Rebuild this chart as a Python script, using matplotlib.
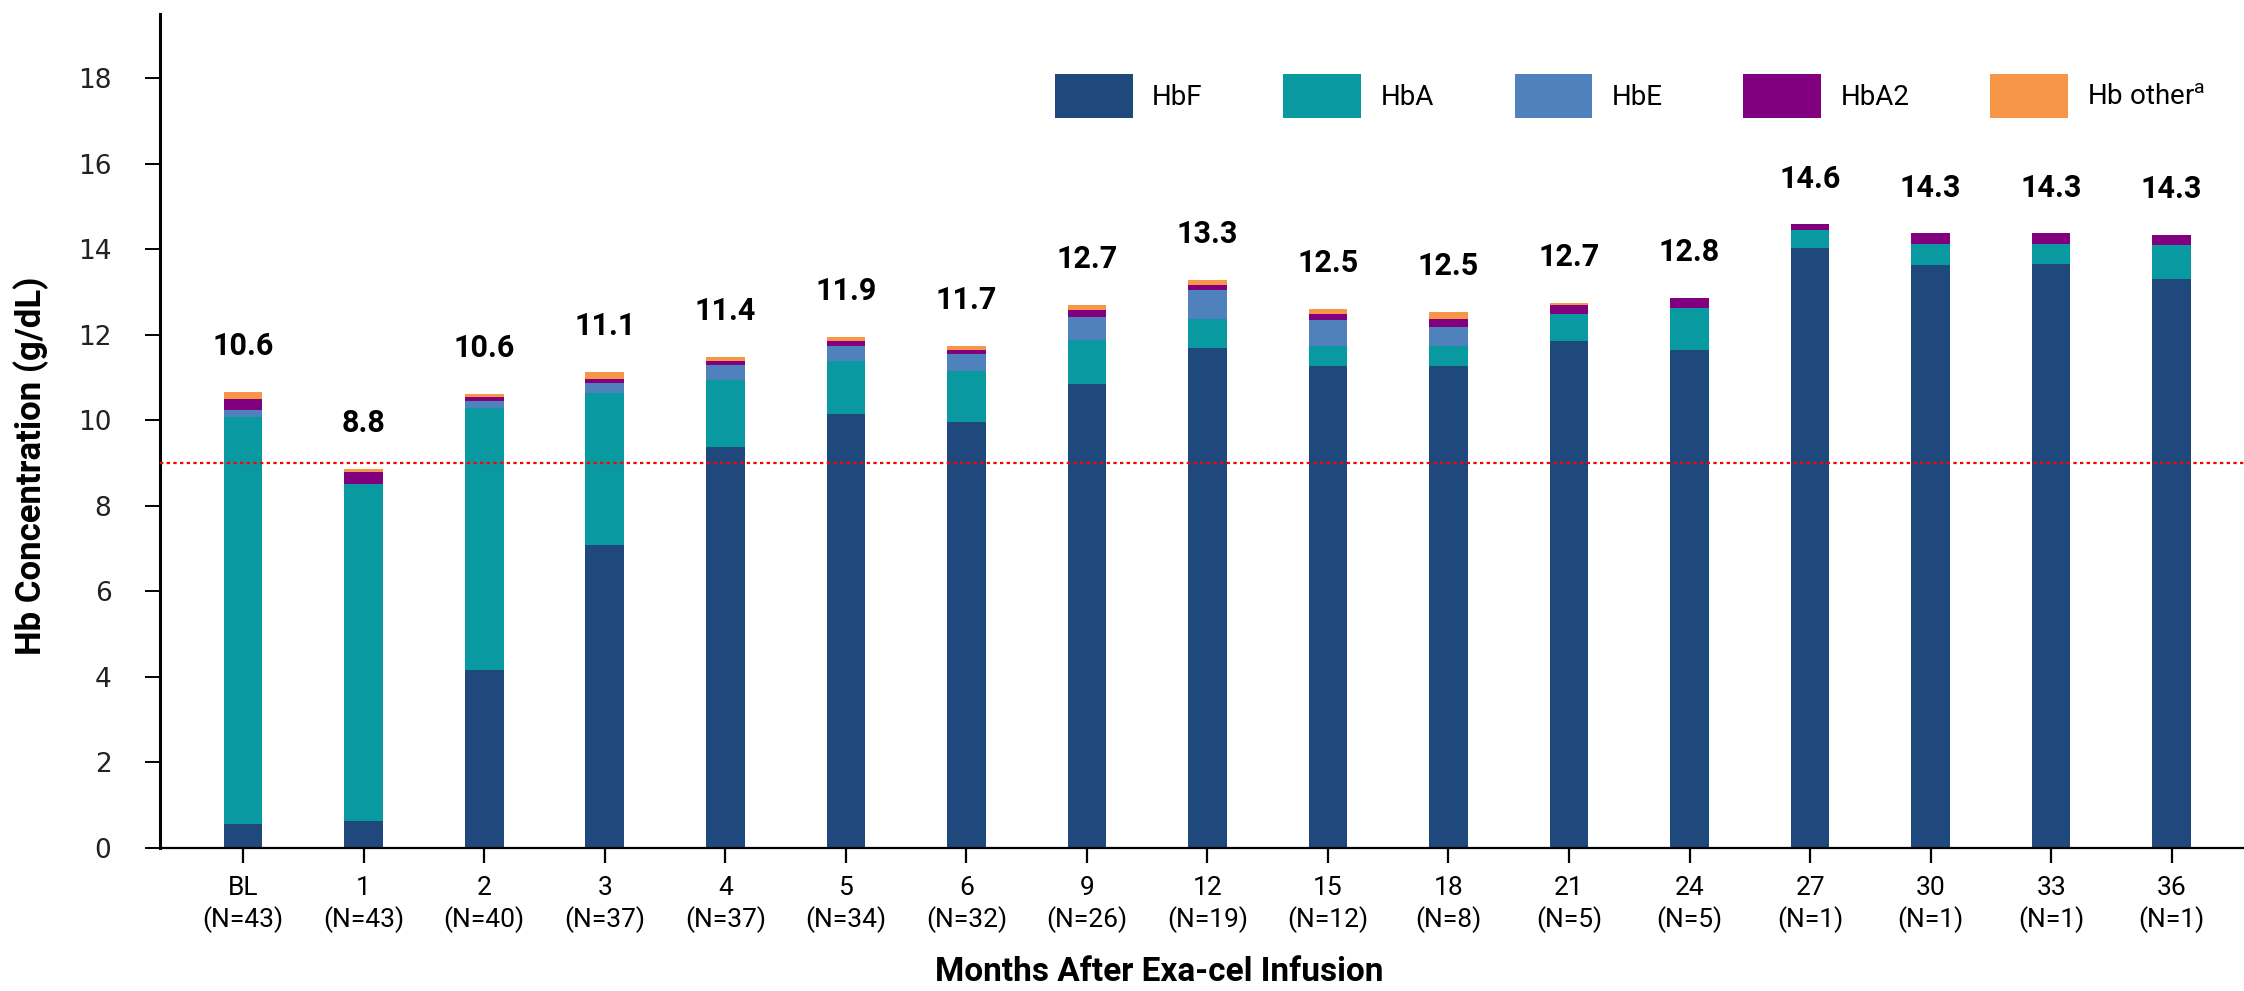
import matplotlib
matplotlib.use("Agg")
import matplotlib.pyplot as plt
from matplotlib import font_manager
import numpy as np

# pick a narrow, Calibri-like family if one is installed
installed = {f.name for f in font_manager.fontManager.ttflist}
NARROW = "Liberation Sans Narrow" if "Liberation Sans Narrow" in installed else "Roboto"
plt.rcParams["font.family"] = [NARROW, "DejaVu Sans"]
plt.rcParams["mathtext.fontset"] = "custom"
plt.rcParams["mathtext.rm"] = NARROW

########################################
# data (g/dL)
months = ["BL", "1", "2", "3", "4", "5", "6", "9", "12", "15", "18",
          "21", "24", "27", "30", "33", "36"]
n_pts = [43, 43, 40, 37, 37, 34, 32, 26, 19, 12, 8, 5, 5, 1, 1, 1, 1]
hbf = [0.55, 0.62, 4.16, 7.08, 9.37, 10.15, 9.96, 10.85, 11.69, 11.27,
       11.27, 11.86, 11.65, 14.04, 13.64, 13.66, 13.31]
hba = [9.53, 7.89, 6.13, 3.56, 1.57, 1.24, 1.20, 1.03, 0.68, 0.47,
       0.47, 0.63, 0.98, 0.42, 0.49, 0.47, 0.80]
hbe = [0.16, 0.00, 0.16, 0.23, 0.36, 0.35, 0.39, 0.54, 0.68, 0.61,
       0.45, 0.00, 0.00, 0.00, 0.00, 0.00, 0.00]
hba2 = [0.26, 0.28, 0.10, 0.10, 0.09, 0.12, 0.10, 0.16, 0.12, 0.14,
        0.18, 0.21, 0.24, 0.12, 0.24, 0.24, 0.23]
hb_other = [0.16, 0.07, 0.07, 0.16, 0.09, 0.09, 0.09, 0.12, 0.12, 0.12,
            0.17, 0.05, 0.00, 0.00, 0.00, 0.00, 0.00]
total_labels = ["10.6", "8.8", "10.6", "11.1", "11.4", "11.9", "11.7", "12.7",
                "13.3", "12.5", "12.5", "12.7", "12.8", "14.6", "14.3", "14.3",
                "14.3"]
threshold = 9.0

series = [
    ("HbF", hbf, "#1F497D"),
    ("HbA", hba, "#0899A1"),
    ("HbE", hbe, "#4F81BD"),
    ("HbA2", hba2, "#800080"),
    ("Hb other$^{\\mathrm{a}}$", hb_other, "#F79646"),
]

########################################
fig = plt.figure(figsize=(22.44, 9.91), dpi=100)
ax = fig.add_axes([0.0713, 0.1443, 0.9287, 0.8416])

x = np.arange(len(months))
bottom = np.zeros(len(months))
handles = []
for name, vals, color in series:
    vals = np.array(vals)
    h = ax.bar(x, vals, width=0.32, bottom=bottom, color=color, label=name,
               linewidth=0)
    handles.append(h)
    bottom = bottom + vals

for xi, top, lab in zip(x, bottom, total_labels):
    ax.annotate(lab, (xi, top), xytext=(0, 33), textcoords="offset points",
                ha="center", va="center", fontsize=22, fontweight="bold",
                color="black")

ax.axhline(threshold, color="red", linestyle=(0, (1.5, 1.5)), linewidth=1.6,
           zorder=3)

ax.set_xlim(-0.69, 16.6)
ax.set_ylim(0, 19.5)
ax.set_yticks(np.arange(0, 19, 2))
ax.set_yticklabels([str(v) for v in range(0, 19, 2)], family="DejaVu Sans",
                   fontsize=19, color="#222222")
ax.set_xticks(x)
ax.set_xticklabels(["%s\n(N=%d)" % (m, n) for m, n in zip(months, n_pts)],
                   fontsize=19, linespacing=1.3)

for side in ["top", "right"]:
    ax.spines[side].set_visible(False)
ax.spines["left"].set_linewidth(2.2)
ax.spines["bottom"].set_linewidth(1.6)
ax.tick_params(axis="y", length=11, width=1.4, pad=24)
ax.tick_params(axis="x", length=11, width=1.6, pad=9)

fig.text(0.5166, 0.019, "Months After Exa-cel Infusion", ha="center",
         va="center", fontsize=24, fontweight="bold")
fig.text(0.014, 0.53, "Hb Concentration (g/dL)", ha="center", va="center",
         rotation=90, fontsize=25, fontweight="bold")

ax.legend(handles=handles, loc="center right", ncol=5, frameon=False,
          bbox_to_anchor=(0.994, 0.903), bbox_transform=fig.transFigure,
          fontsize=20, handlelength=2.8, handleheight=2.1,
          handletextpad=0.7, columnspacing=2.9)

fig.savefig("out.png", dpi=100)
